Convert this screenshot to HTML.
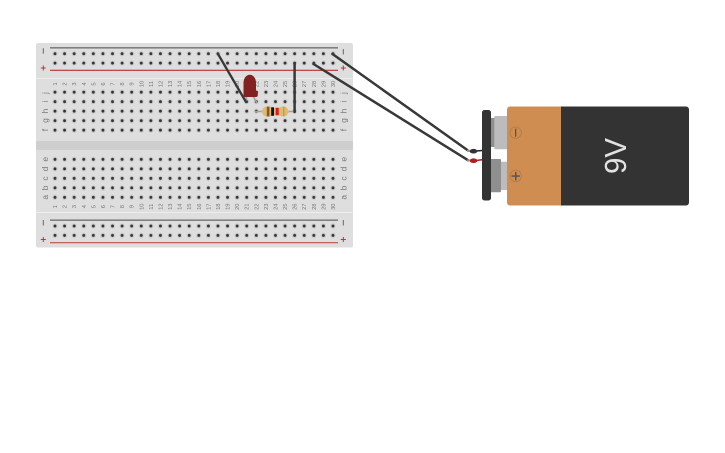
<!DOCTYPE html>
<html><head><meta charset="utf-8"><style>
html,body{margin:0;padding:0;background:#fff;width:725px;height:453px;overflow:hidden}
svg{display:block}
.n text{font:5.8px "Liberation Sans",sans-serif;fill:#777;text-anchor:middle}
.l text{font:8.500px "Liberation Sans",sans-serif;fill:#777;text-anchor:middle}
</style></head><body>
<svg width="725" height="453" viewBox="0 0 725 453" xmlns="http://www.w3.org/2000/svg">
<defs>
<pattern id="c1" x="50.2" y="49" width="9.586" height="9.4" patternUnits="userSpaceOnUse"><circle cx="4.793" cy="4.7" r="2.6" fill="#cdcdcd"/><circle cx="4.793" cy="4.7" r="1.45" fill="#333"/></pattern>
<pattern id="c2" x="50.2" y="87.4" width="9.586" height="9.5" patternUnits="userSpaceOnUse"><circle cx="4.793" cy="4.75" r="2.6" fill="#cdcdcd"/><circle cx="4.793" cy="4.75" r="1.45" fill="#333"/></pattern>
<pattern id="c3" x="50.2" y="154.6" width="9.586" height="9.5" patternUnits="userSpaceOnUse"><circle cx="4.793" cy="4.75" r="2.6" fill="#cdcdcd"/><circle cx="4.793" cy="4.75" r="1.45" fill="#333"/></pattern>
<pattern id="c4" x="50.2" y="221.3" width="9.586" height="9.4" patternUnits="userSpaceOnUse"><circle cx="4.793" cy="4.7" r="2.6" fill="#cdcdcd"/><circle cx="4.793" cy="4.7" r="1.45" fill="#333"/></pattern>
</defs>

<rect x="36" y="43" width="317" height="204.500" rx="2" fill="#dedede"/>
<rect x="36" y="141" width="317" height="9" fill="#cecece"/>
<rect x="36" y="78" width="317" height="1" fill="#ededed"/>
<rect x="36" y="212" width="317" height="1" fill="#ededed"/>
<rect x="50" y="47.200" width="288" height="1.300" fill="#6a6a6a"/>
<rect x="50" y="69.700" width="288" height="1.300" fill="#c0484a"/>
<rect x="50" y="219.500" width="288" height="1.300" fill="#6a6a6a"/>
<rect x="50" y="242" width="288" height="1.300" fill="#c0605f"/>

<rect x="50.200" y="49" width="287.600" height="18.800" fill="url(#c1)"/>
<rect x="50.200" y="87.400" width="287.600" height="47.500" fill="url(#c2)"/>
<rect x="50.200" y="154.600" width="287.600" height="47.500" fill="url(#c3)"/>
<rect x="50.200" y="221.300" width="287.600" height="18.800" fill="url(#c4)"/>

<g fill="#666"><rect x="42.800" y="48.200" width="1" height="5.500"/><rect x="342.800" y="49" width="1" height="5.500"/><rect x="42.800" y="220" width="1" height="5.500"/><rect x="342.800" y="220" width="1" height="5.500"/></g>
<g fill="#b8343a"><rect x="40.800" y="67.500" width="5" height="1"/><rect x="42.800" y="65.500" width="1" height="5"/><rect x="340.800" y="67.500" width="5" height="1"/><rect x="342.800" y="65.500" width="1" height="5"/><rect x="40.800" y="239" width="5" height="1"/><rect x="42.800" y="237" width="1" height="5"/><rect x="340.800" y="239" width="5" height="1"/><rect x="342.800" y="237" width="1" height="5"/></g>

<g class="l">
<text transform="translate(48,93) rotate(-90)">j</text><text transform="translate(48,101.500) rotate(-90)">i</text><text transform="translate(48,111) rotate(-90)">h</text><text transform="translate(48,120.500) rotate(-90)">g</text><text transform="translate(48,130) rotate(-90)">f</text>
<text transform="translate(48,159.300) rotate(-90)">e</text><text transform="translate(48,169) rotate(-90)">d</text><text transform="translate(48,178.500) rotate(-90)">c</text><text transform="translate(48,188) rotate(-90)">b</text><text transform="translate(48,197.300) rotate(-90)">a</text>
<text transform="translate(346.500,93) rotate(-90)">j</text><text transform="translate(346.500,101.500) rotate(-90)">i</text><text transform="translate(346.500,111) rotate(-90)">h</text><text transform="translate(346.500,120.500) rotate(-90)">g</text><text transform="translate(346.500,130) rotate(-90)">f</text>
<text transform="translate(346.500,159.300) rotate(-90)">e</text><text transform="translate(346.500,169) rotate(-90)">d</text><text transform="translate(346.500,178.500) rotate(-90)">c</text><text transform="translate(346.500,188) rotate(-90)">b</text><text transform="translate(346.500,197.300) rotate(-90)">a</text>
</g>

<g class="n">
<text transform="translate(57,84) rotate(-90)">1</text><text transform="translate(66.600,84) rotate(-90)">2</text><text transform="translate(76.200,84) rotate(-90)">3</text><text transform="translate(85.800,84) rotate(-90)">4</text><text transform="translate(95.300,84) rotate(-90)">5</text><text transform="translate(104.900,84) rotate(-90)">6</text><text transform="translate(114.500,84) rotate(-90)">7</text><text transform="translate(124.100,84) rotate(-90)">8</text><text transform="translate(133.700,84) rotate(-90)">9</text><text transform="translate(143.300,84) rotate(-90)">10</text>
<text transform="translate(152.900,84) rotate(-90)">11</text><text transform="translate(162.400,84) rotate(-90)">12</text><text transform="translate(172,84) rotate(-90)">13</text><text transform="translate(181.600,84) rotate(-90)">14</text><text transform="translate(191.200,84) rotate(-90)">15</text><text transform="translate(200.800,84) rotate(-90)">16</text><text transform="translate(210.400,84) rotate(-90)">17</text><text transform="translate(220,84) rotate(-90)">18</text><text transform="translate(229.500,84) rotate(-90)">19</text><text transform="translate(239.100,84) rotate(-90)">20</text>
<text transform="translate(248.700,84) rotate(-90)">21</text><text transform="translate(258.300,84) rotate(-90)">22</text><text transform="translate(267.900,84) rotate(-90)">23</text><text transform="translate(277.500,84) rotate(-90)">24</text><text transform="translate(287.100,84) rotate(-90)">25</text><text transform="translate(296.600,84) rotate(-90)">26</text><text transform="translate(306.200,84) rotate(-90)">27</text><text transform="translate(315.800,84) rotate(-90)">28</text><text transform="translate(325.400,84) rotate(-90)">29</text><text transform="translate(335,84) rotate(-90)">30</text>

<text transform="translate(57,206.700) rotate(-90)">1</text><text transform="translate(66.600,206.700) rotate(-90)">2</text><text transform="translate(76.200,206.700) rotate(-90)">3</text><text transform="translate(85.800,206.700) rotate(-90)">4</text><text transform="translate(95.300,206.700) rotate(-90)">5</text><text transform="translate(104.900,206.700) rotate(-90)">6</text><text transform="translate(114.500,206.700) rotate(-90)">7</text><text transform="translate(124.100,206.700) rotate(-90)">8</text><text transform="translate(133.700,206.700) rotate(-90)">9</text><text transform="translate(143.300,206.700) rotate(-90)">10</text>
<text transform="translate(152.900,206.700) rotate(-90)">11</text><text transform="translate(162.400,206.700) rotate(-90)">12</text><text transform="translate(172,206.700) rotate(-90)">13</text><text transform="translate(181.600,206.700) rotate(-90)">14</text><text transform="translate(191.200,206.700) rotate(-90)">15</text><text transform="translate(200.800,206.700) rotate(-90)">16</text><text transform="translate(210.400,206.700) rotate(-90)">17</text><text transform="translate(220,206.700) rotate(-90)">18</text><text transform="translate(229.500,206.700) rotate(-90)">19</text><text transform="translate(239.100,206.700) rotate(-90)">20</text>
<text transform="translate(248.700,206.700) rotate(-90)">21</text><text transform="translate(258.300,206.700) rotate(-90)">22</text><text transform="translate(267.900,206.700) rotate(-90)">23</text><text transform="translate(277.500,206.700) rotate(-90)">24</text><text transform="translate(287.100,206.700) rotate(-90)">25</text><text transform="translate(296.600,206.700) rotate(-90)">26</text><text transform="translate(306.200,206.700) rotate(-90)">27</text><text transform="translate(315.800,206.700) rotate(-90)">28</text><text transform="translate(325.400,206.700) rotate(-90)">29</text><text transform="translate(335,206.700) rotate(-90)">30</text>
</g>

<!-- resistor -->
<path d="M255 111.500H263M287 111.500H294" stroke="#a0a0a0" stroke-width="1.600" fill="none"/>
<path d="M266 106.500h3c2 0 3 1.300 4.500 1.300h5c1.500 0 2.500-1.300 4.500-1.300h1.500c2 0 3.800 3 4.500 5c-.7 2-2.500 5-4.500 5h-1.500c-2 0-3-1.300-4.500-1.300h-5c-1.500 0-2.500 1.300-4.500 1.300h-3c-2 0-3.800-3-4.500-5c.7-2 2.500-5 4.500-5z" fill="#dcbc78"/>
<rect x="266.800" y="106.500" width="2.600" height="10" fill="#8a5a22"/>
<rect x="271.200" y="107.300" width="2.800" height="8.500" fill="#111"/>
<rect x="275.700" y="107.800" width="3" height="7.500" fill="#e01818"/>
<rect x="283" y="106.700" width="1.500" height="9.600" fill="#c8a040"/>

<!-- LED -->
<path d="M246.500 96L246.200 103M253 96L257 103" stroke="#a0a0a0" stroke-width="1.600" fill="none"/>
<path d="M243.500 83c0-5 3-8.300 6.300-8.300s6.200 3.300 6.200 8.300v8h1.800v4.500c0 1-1 1.500-2 1.500h-11c-.5 0-1.300-.5-1.300-2z" fill="#832020"/>

<!-- wires -->
<g fill="none" stroke-linecap="round">
<path d="M218 54L246 102" stroke="#383838" stroke-width="2.300"/>
<path d="M294.600 63.500V112" stroke="#383838" stroke-width="2.500"/>
<path d="M332.500 54L468 150.500" stroke="#383838" stroke-width="2.500"/>
<path d="M313.500 64L468 160.200" stroke="#383838" stroke-width="2.500"/>
<path d="M468 150.500l3 .8" stroke="#999" stroke-width="2"/>
<path d="M468 160.200l3 .5" stroke="#999" stroke-width="2"/>
</g>

<!-- battery -->
<rect x="490" y="118" width="5" height="29" fill="#8f8f8f"/>
<rect x="494.300" y="116" width="13.200" height="33.300" rx="1" fill="#bcbcbc"/>
<rect x="490" y="159" width="11" height="33.300" rx="1" fill="#8f8f8f"/>
<rect x="501" y="161.700" width="6.500" height="28.300" fill="#bcbcbc"/>
<rect x="482" y="110" width="9" height="90.500" rx="2.500" fill="#333"/>
<path d="M510 106.500H561V205.500H510a3 3 0 0 1-3-3V109.500a3 3 0 0 1 3-3z" fill="#cf8d52"/>
<path d="M561 106.500H686a3 3 0 0 1 3 3V202.500a3 3 0 0 1-3 3H561z" fill="#333"/>
<circle cx="515.700" cy="132.700" r="5.700" fill="none" stroke="#b87d49" stroke-width="1"/>
<circle cx="515.700" cy="176" r="5.700" fill="none" stroke="#b87d49" stroke-width="1"/>
<rect x="515" y="128.700" width="1.300" height="8" fill="#555"/>
<rect x="511.500" y="175.300" width="8.400" height="1.500" fill="#555"/><rect x="515" y="172" width="1.500" height="8.300" fill="#555"/>
<text transform="translate(626,156) rotate(-90)" font-family="Liberation Sans, sans-serif" font-size="31" fill="#e2e2e2" text-anchor="middle" textLength="36" lengthAdjust="spacingAndGlyphs">9V</text>

<!-- snap leads -->
<path d="M474 151.300L482 150.500" stroke="#222" stroke-width="1.500"/>
<path d="M474 160.700L482 159.800" stroke="#b41c20" stroke-width="1.500"/>
<ellipse cx="473.500" cy="151.200" rx="3.800" ry="2.300" fill="#333"/>
<ellipse cx="473.500" cy="160.700" rx="3.800" ry="2.300" fill="#b41c20"/>
</svg>
</body></html>
